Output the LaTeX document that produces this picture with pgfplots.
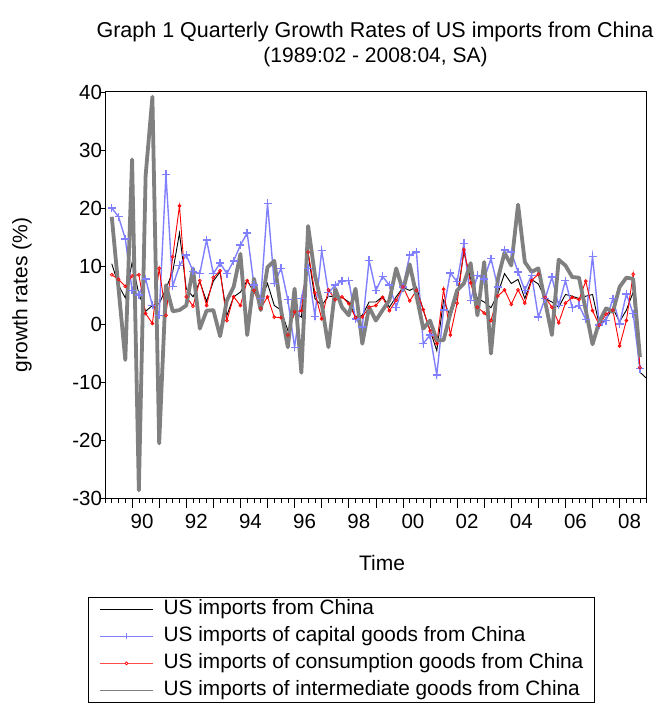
\documentclass[border=0pt]{standalone}
\usepackage{fontspec}
\setmainfont{Liberation Sans}
\usepackage{pgfplots}
\pgfplotsset{compat=1.18}
\usepackage{pgfplotstable}
\definecolor{capblue}{RGB}{128,128,255}
\definecolor{intgray}{RGB}{128,128,128}

\pgfplotstableread{
i v
1 10.5
2 6.8
3 4.6
4 10.7
5 5.3
6 2.3
7 3.3
8 3.6
9 6.2
10 9.1
11 15.8
12 6.2
13 4.8
14 7.4
15 4.0
16 7.5
17 9.1
18 1.6
19 4.8
20 5.6
21 7.6
22 5.6
23 4.2
24 7.1
25 3.3
26 2.5
27 -1.0
28 2.0
29 1.3
30 12.2
31 4.5
32 3.3
33 4.9
34 4.8
35 4.7
36 3.9
37 1.4
38 1.6
39 3.9
40 3.9
41 4.8
42 3.0
43 4.8
44 6.4
45 5.9
46 6.5
47 2.5
48 -1.0
49 -4.5
50 4.2
51 1.4
52 4.8
53 12.5
54 7.9
55 4.5
56 3.9
57 2.9
58 5.3
59 8.8
60 7.1
61 7.8
62 4.5
63 7.8
64 7.0
65 4.5
66 3.9
67 3.0
68 5.2
69 4.9
70 4.5
71 4.9
72 5.2
73 -0.1
74 1.0
75 2.8
76 0.5
77 2.5
78 5.6
79 -8.2
80 -9.3
}\tblack

\pgfplotstableread{
i v
1 20.1
2 18.6
3 14.8
4 5.9
5 5.1
6 7.9
7 3.3
8 1.6
9 25.9
10 6.6
11 10.2
12 12.0
13 9.2
14 8.8
15 14.6
16 8.8
17 10.6
18 8.8
19 11.0
20 13.7
21 15.8
22 6.8
23 4.5
24 20.9
25 7.1
26 9.7
27 4.3
28 -3.9
29 4.5
30 9.7
31 1.4
32 12.8
33 5.5
34 6.8
35 7.5
36 7.6
37 1.0
38 -0.4
39 11.1
40 5.9
41 8.3
42 6.8
43 3.0
44 6.5
45 12.0
46 12.5
47 -3.3
48 -1.8
49 -8.7
50 2.5
51 8.9
52 7.4
53 14.0
54 4.2
55 8.5
56 7.9
57 11.4
58 6.5
59 12.9
60 12.5
61 9.1
62 5.9
63 8.5
64 1.3
65 4.5
66 8.2
67 3.3
68 7.6
69 2.9
70 3.3
71 0.9
72 11.8
73 -0.1
74 0.7
75 4.5
76 0.1
77 5.3
78 1.9
79 -7.6
}\tblue

\pgfplotstableread{
i v
1 8.6
2 7.8
3 6.6
4 8.4
5 8.6
6 1.9
7 0.2
8 9.7
9 1.6
10 11.7
11 20.5
12 4.8
13 3.2
14 7.6
15 3.3
16 8.1
17 9.3
18 0.7
19 4.8
20 3.3
21 7.6
22 5.9
23 2.8
24 4.8
25 1.3
26 1.2
27 -1.8
28 2.2
29 2.4
30 12.5
31 5.5
32 1.0
33 6.0
34 4.3
35 4.8
36 3.6
37 1.2
38 1.3
39 3.0
40 3.3
41 4.7
42 2.4
43 4.2
44 6.5
45 4.1
46 5.9
47 2.6
48 -1.1
49 -3.3
50 6.1
51 -1.8
52 3.7
53 12.9
54 7.2
55 3.0
56 2.0
57 0.7
58 4.9
59 6.0
60 3.5
61 6.0
62 3.7
63 7.6
64 8.7
65 4.7
66 3.0
67 0.3
68 3.7
69 4.7
70 4.3
71 7.5
72 2.4
73 -0.1
74 1.8
75 2.5
76 -3.7
77 0.7
78 8.7
79 -7.4
}\tred

\pgfplotstableread{
i v
1 18.6
2 6.2
3 -6.1
4 28.5
5 -28.6
6 25.7
7 39.3
8 -20.5
9 6.8
10 2.3
11 2.5
12 3.3
13 9.7
14 -0.7
15 2.4
16 2.5
17 -2.0
18 4.2
19 6.5
20 12.2
21 -1.8
22 7.9
23 2.5
24 9.9
25 11.0
26 2.5
27 -3.9
28 6.2
29 -8.3
30 17.0
31 8.5
32 3.6
33 -3.9
34 6.2
35 3.0
36 1.6
37 6.2
38 -3.3
39 3.0
40 0.7
41 2.5
42 4.2
43 9.7
44 5.9
45 10.4
46 5.0
47 -0.7
48 0.7
49 -2.7
50 -2.7
51 1.9
52 5.9
53 7.1
54 10.6
55 1.6
56 10.8
57 -5.0
58 7.8
59 12.4
60 10.2
61 20.7
62 10.8
63 9.1
64 9.7
65 4.0
66 -1.8
67 11.2
68 10.2
69 8.2
70 8.1
71 2.5
72 -3.4
73 0.5
74 2.8
75 2.2
76 6.5
77 8.1
78 7.9
79 -5.6
}\tgray

\begin{document}
\begin{tikzpicture}
\path[use as bounding box] (-105pt,-209.5pt) rectangle (551pt,498.5pt);
\begin{axis}[
  at={(0pt,0pt)}, anchor=south west,
  scale only axis, width=541.7pt, height=407.5pt,
  xmin=0, xmax=80, ymin=-30, ymax=40.3,
  axis line style={line width=0.8pt},
  tick style={black, line width=0.6pt},
  tick align=outside,
  xtick pos=lower, ytick pos=left,
  major tick length=4.5pt, minor tick length=4pt,
  xtick={4,8,...,76},
  xticklabels={90,,92,,94,,96,,98,,00,,02,,04,,06,,08},
  minor xtick={0,1,...,80},
  extra x ticks={4,8,...,76},
  extra x tick labels={},
  extra tick style={major tick length=9pt},
  xticklabel style={anchor=north, xshift=10pt, yshift=-8pt},
  ytick={-30,-20,...,40},
  yticklabels={-30,-20,-10,0,10,20,30,40},
  yticklabel style={anchor=east, xshift=5pt},
  ticklabel style={font=\fontsize{20.5}{24}\selectfont},
  legend cell align=left,
  legend style={at={(axis description cs:-0.0314,-0.2417)}, anchor=north west,
    draw=black, line width=0.6pt, font=\fontsize{20.8}{24}\selectfont,
    inner xsep=11pt, inner ysep=3pt, row sep=9pt, column sep=10pt,
    nodes={inner sep=0pt, text height=14pt, text depth=4pt}},
]
\addplot[black, line width=0.9pt, mark=none,
  legend image code/.code={\draw[black, line width=0.7pt] (0pt,0pt) -- (53pt,0pt);}]
  table[x=i, y=v] {\tblack};
\addlegendentry{US imports from China}
\addplot[capblue, line width=1.4pt, mark=+, mark size=4pt,
  mark options={line width=1.4pt},
  legend image code/.code={\draw[capblue, line width=0.7pt] (0pt,0pt) -- (53pt,0pt);
    \draw[capblue, line width=0.7pt] (26.5pt,-3pt) -- (26.5pt,3pt);}]
  table[x=i, y=v] {\tblue};
\addlegendentry{US imports of capital goods from China}
\addplot[red, line width=0.9pt, mark=o, mark size=1.5pt,
  mark options={fill=white, line width=0.7pt},
  legend image code/.code={\draw[red!70, line width=1.4pt] (0pt,0pt) -- (53pt,0pt);
    \draw[red, fill=white, line width=0.7pt] (26.5pt,0pt) circle (1.5pt);}]
  table[x=i, y=v] {\tred};
\addlegendentry{US imports of consumption goods from China}
\addplot[intgray, line width=3.8pt, mark=none, line join=round,
  legend image code/.code={\draw[intgray, line width=1.4pt] (0pt,0pt) -- (53pt,0pt);}]
  table[x=i, y=v] {\tgray};
\addlegendentry{US imports of intermediate goods from China}
\end{axis}
\node[font=\fontsize{21.5}{24}\selectfont] at (270pt,466.5pt) {Graph 1 Quarterly Growth Rates of US imports from China};
\node[font=\fontsize{21}{24}\selectfont] at (270.5pt,441.5pt) {(1989:02 - 2008:04, SA)};
\node[font=\fontsize{21}{24}\selectfont] at (277pt,-64.5pt) {Time};
\node[font=\fontsize{21}{24}\selectfont, rotate=90] at (-83pt,203.5pt) {growth rates (\%)};
\end{tikzpicture}
\end{document}
